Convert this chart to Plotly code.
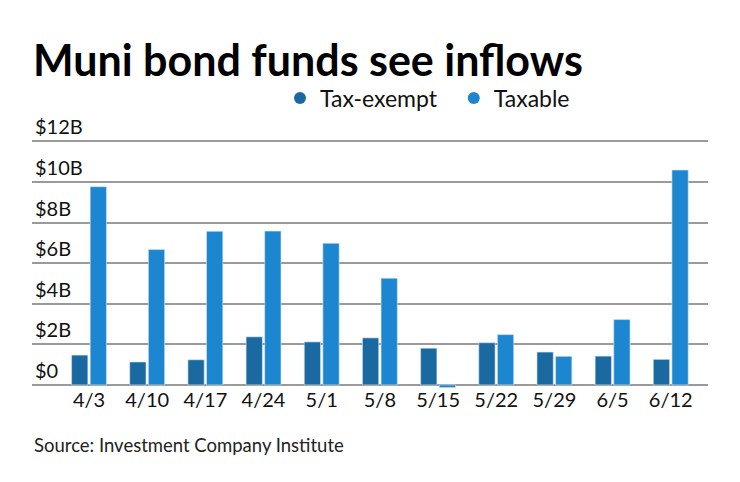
import plotly.graph_objects as go

categories = ["4/3", "4/10", "4/17", "4/24", "5/1", "5/8", "5/15", "5/22", "5/29", "6/5", "6/12"]
tax_exempt = [1.47, 1.13, 1.24, 2.37, 2.12, 2.32, 1.81, 2.08, 1.62, 1.42, 1.26]
taxable = [9.77, 6.67, 7.57, 7.58, 6.98, 5.26, -0.13, 2.48, 1.41, 3.22, 10.59]
y_ticks = [0, 2, 4, 6, 8, 10, 12]
y_tick_labels = ["$0", "$2B", "$4B", "$6B", "$8B", "$10B", "$12B"]
series_names = ["Tax-exempt\u00a0\u00a0", "Taxable"]
colors = ["#1b69a1", "#1c86d1"]

FONT = "Lato"
# page body has an 8px margin, so figure coords = screen coords - 8
W, HT = 724, 466
LEFT, RIGHT = 24, 700
TOP, BOT = 102.5, 382.0
H = BOT - TOP

fig = go.Figure()
fig.add_trace(go.Bar(x=categories, y=tax_exempt, name=series_names[0],
                     marker=dict(color=colors[0], line=dict(color="#d8e6f2", width=0.6)),
                     width=0.28, offset=-0.30, showlegend=False))
fig.add_trace(go.Bar(x=categories, y=taxable, name=series_names[1],
                     marker=dict(color=colors[1], line=dict(color="#d8e6f2", width=0.6)),
                     width=0.28, offset=0.02, showlegend=False))
for n, c in zip(series_names, colors):
    fig.add_trace(go.Scatter(x=[None], y=[None], mode="markers", name=n,
                             marker=dict(color=c, size=12, symbol="circle")))

fig.update_layout(
    width=W, height=HT,
    margin=dict(l=LEFT, r=W - RIGHT, t=TOP, b=HT - BOT, autoexpand=False),
    paper_bgcolor="white", plot_bgcolor="white",
    font=dict(family=FONT, color="#111111"),
    title=dict(text="<b>Muni bond funds see inflows</b>", x=25/W, xanchor="left",
               xref="container", y=1-53/HT, yanchor="middle", yref="container",
               font=dict(size=43, family=FONT, color="#000000")),
    legend=dict(orientation="h", x=(272-LEFT)/(RIGHT-LEFT), xanchor="left", y=1+(TOP-89.5)/H, yanchor="middle",
                font=dict(size=23, family=FONT, color="#111111"), itemwidth=30,
                bgcolor="rgba(0,0,0,0)"),
    xaxis=dict(type="category", range=[-0.98, 10.64], showgrid=False, showline=False,
               ticks="", tickfont=dict(size=20, family=FONT, color="#111111"),
               ticklabelstandoff=-4),
    yaxis=dict(range=[-0.25, 13.5], tickvals=y_ticks, ticktext=y_tick_labels,
               ticklabelposition="inside top", showgrid=True, gridcolor="#9a9a9a", gridwidth=1.5,
               zeroline=False, showline=False, ticks="",
               tickfont=dict(size=20, family=FONT, color="#111111")),
    annotations=[dict(text="Source: Investment Company Institute", xref="paper", yref="paper",
                      x=0, y=-(437-BOT)/H, xanchor="left", yanchor="middle", showarrow=False,
                      font=dict(size=18.5, family=FONT, color="#222222"))],
)

fig.write_html("out.html")
